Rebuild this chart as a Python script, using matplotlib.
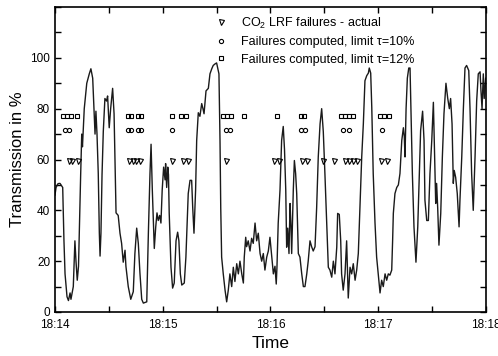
import matplotlib
matplotlib.use('Agg')
import matplotlib.pyplot as plt
from matplotlib.ticker import MultipleLocator, FixedLocator

plt.rcParams['font.family'] = ['Liberation Sans', 'DejaVu Sans']
plt.rcParams['mathtext.fontset'] = 'custom'
plt.rcParams['mathtext.rm'] = 'Liberation Sans'
plt.rcParams['mathtext.it'] = 'Liberation Sans:italic'

# transmission trace, time in seconds after 18:14
t_sec = [0, 0.6, 1.7, 2.8, 4.3, 5.0, 5.6, 6.7, 7.5, 8.4, 8.9, 10.2, 11.1, 11.7, 12.4, 13.1,
         14.3, 14.9, 15.3, 15.8, 16.3, 17.7, 19.1, 20.0, 21.0, 21.7, 22.3, 22.8, 23.4, 24.1,
         24.7, 25.1, 25.6, 26.2, 26.9, 27.8, 28.7, 29.3, 30.2, 31.0, 32.1, 32.9, 33.4, 34.0,
         35.2, 36.2, 37.1, 38.0, 39.0, 39.5, 40.8, 42.2, 43.6, 44.5, 45.5, 46.4, 47.3, 48.3,
         49.2, 51.1, 52.0, 52.9, 53.5, 54.2, 55.0, 55.3, 56.1, 56.8, 57.5, 58.3, 59.0, 59.7,
         60.5, 61.3, 61.6, 62.2, 62.8, 63.2, 63.6, 64.6, 65.5, 66.4, 67.4, 68.3, 69.0, 69.8,
         70.6, 72.0, 72.9, 74.2, 75.2, 76.1, 76.7, 77.4, 78.3, 78.9, 79.8, 80.7, 81.7, 82.4,
         83.0, 84.1, 85.4, 86.3, 87.3, 88.1, 89.1, 90.0, 90.6, 91.3, 91.9, 92.3, 92.8, 93.7,
         94.7, 95.6, 96.5, 97.4, 98.4, 99.3, 100.2, 101.2, 102.1, 103.0, 104.0, 104.9, 105.4,
         106.2, 106.7, 107.6, 108.6, 109.5, 110.4, 111.4, 112.3, 113.2, 114.2, 115.1, 116.0,
         116.9, 117.9, 118.8, 119.7, 120.7, 121.6, 122.5, 123.2, 123.6, 124.3, 125.3, 126.2,
         127.1, 127.8, 128.5, 129.0, 129.6, 130.3, 130.9, 131.4, 131.8, 132.7, 133.3, 134.0,
         134.6, 135.1, 135.5, 136.4, 137.4, 138.3, 139.2, 140.2, 141.0, 142.0, 142.9, 143.8,
         144.8, 145.7, 146.6, 147.6, 148.5, 149.4, 150.3, 151.3, 152.2, 153.1, 154.1, 155.0,
         155.9, 156.9, 157.4, 158.3, 159.1, 159.6, 160.5, 161.5, 162.4, 163.0, 163.3, 164.3,
         165.2, 166.1, 167.1, 168.0, 168.9, 169.8, 170.8, 171.7, 172.6, 173.6, 174.5, 175.0,
         175.8, 176.4, 177.2, 178.2, 179.1, 180.0, 181.0, 181.9, 182.8, 183.8, 184.7, 185.6,
         186.5, 187.5, 188.0, 188.4, 189.3, 190.3, 191.2, 192.1, 193.1, 194.0, 194.5, 194.9,
         195.5, 196.2, 197.0, 197.7, 198.2, 199.0, 199.9, 201.0, 202.0, 202.9, 203.6, 204.7,
         205.5, 206.0, 207.0, 207.9, 208.8, 209.8, 210.7, 211.2, 212.0, 212.5, 213.1, 213.8,
         214.8, 215.7, 216.6, 217.7, 218.7, 219.6, 220.3, 221.1, 221.8, 222.3, 223.1, 224.0,
         225.0, 225.5, 226.5, 227.4, 228.3, 229.2, 230.4, 231.1, 232.0, 232.9, 233.9, 234.8,
         235.7, 236.7, 237.2, 237.8, 238.5, 239.0, 239.8]
transmission = [46, 49, 50.5, 50.6, 49, 28, 15, 6, 4.5, 7.5, 5, 10, 28, 20, 12.5, 18,
                54, 70, 65, 72.5, 80, 90, 93.7, 95.7, 92, 80, 70, 79, 70, 54.5,
                31, 22, 31, 54, 71, 84, 83, 85, 72.5, 80, 88, 78, 61, 39,
                38, 31, 27, 19.6, 24.3, 18, 10, 5, 8, 23, 33, 27, 15.4, 5,
                3.5, 4, 31, 54.5, 66, 48, 31, 25, 33.5, 39, 36, 38, 35, 48,
                57, 52, 58.4, 49, 57, 54, 39, 17.6, 9.4, 11.4, 28, 31.4, 28, 15,
                10.6, 11.4, 21.6, 46.6, 51.8, 51.8, 41, 31, 48, 67.5, 78.4, 77, 82, 80,
                78, 87, 88, 93.7, 95.7, 97, 97.6, 98, 96, 93.7, 67, 41, 21.6, 15,
                8.6, 4, 8.6, 15, 10, 17.6, 12, 19, 15, 20, 15, 11.4, 21.6,
                29.4, 25.7, 28, 24, 29, 27, 35, 28, 31, 23, 20, 23,
                16.5, 21.6, 24, 29.4, 21.6, 15, 18, 11, 17.6, 35, 48, 67.5,
                73, 64, 48, 25.5, 33, 23, 42.7, 34, 23, 48, 59.6, 54.5,
                46.6, 34, 23, 21.6, 15, 10, 10, 15, 20, 28, 25.7, 24,
                25.7, 41, 61, 74, 80, 71, 54.5, 35, 17.6, 16.5, 13.7, 20,
                15, 25.5, 38.8, 38.4, 28, 15, 8.6, 15, 28, 12.5, 5.5, 17.6,
                15, 19, 12.5, 16.5, 23, 41, 61, 74, 91, 93, 94, 96,
                94, 80.5, 54.5, 35, 21.6, 15, 7.5, 12.5, 10, 15, 12.5, 15,
                14.5, 16.5, 28, 38.8, 46.6, 49, 50, 54.5, 67.5, 72.5, 69, 61,
                80, 92, 96, 96, 80, 54.5, 33.5, 19.6, 33.5, 54.5, 71.4, 79,
                67.5, 44, 36, 36, 54.5, 67.5, 82.5, 67.5, 42.7, 50.6, 41, 26.3,
                38.8, 61, 78, 90, 84, 80, 84, 74, 50.6, 55.7, 53, 46.6,
                33.5, 44, 61, 80, 96, 97, 95, 80, 54.5, 40, 61, 83,
                93.7, 94.5, 87, 80, 93.7, 84, 92]

# failure events (seconds after 18:14)
actual_t = [7.8, 9.7, 12.8, 41.2, 43.2, 45.1, 47.3, 65.4, 71.3, 74.1, 95.2, 122.2, 124.7,
            137.5, 140.3, 149.2, 155.6, 161.5, 163.7, 165.9, 168.4, 181.5, 185.1]
tau10_t = [5.6, 7.8, 40.6, 42.3, 46.2, 47.9, 65.1, 95.2, 97.4, 137.0, 139.2, 160.4,
           163.7, 182.1]
tau12_t = [4.5, 6.7, 8.9, 12.0, 40.6, 42.3, 46.2, 47.9, 65.1, 70.4, 72.7, 93.5, 95.8,
           98.0, 105.2, 123.9, 137.0, 138.6, 159.3, 161.5, 163.7, 165.9, 181.0, 183.2, 186.0]
actual_level = 59.6
tau10_level = 71.6
tau12_level = 77.3

tick_labels = ['18:14', '18:15', '18:16', '18:17', '18:18']

fig = plt.figure(figsize=(4.98, 3.56), dpi=100)
ax = fig.add_axes([0.1104, 0.1236, 0.8655, 0.8567])

ax.plot(t_sec, transmission, color='#1a1a1a', lw=1.0)
ax.plot(actual_t, [actual_level] * len(actual_t), ls='none', marker='v', ms=3.6,
        mfc='none', mec='k', mew=0.8, label='CO$_2$ LRF failures - actual')
ax.plot(tau10_t, [tau10_level] * len(tau10_t), ls='none', marker='o', ms=3.0,
        mfc='none', mec='k', mew=0.8, label='Failures computed, limit τ=10%')
ax.plot(tau12_t, [tau12_level] * len(tau12_t), ls='none', marker='s', ms=3.0,
        mfc='none', mec='k', mew=0.8, label='Failures computed, limit τ=12%')

ax.set_xlim(0, 240)
ax.set_ylim(0, 120)
ax.xaxis.set_major_locator(FixedLocator([0, 60, 120, 180, 240]))
ax.set_xticklabels(tick_labels)
ax.xaxis.set_minor_locator(MultipleLocator(30))
ax.yaxis.set_major_locator(FixedLocator([0, 20, 40, 60, 80, 100]))
ax.yaxis.set_minor_locator(MultipleLocator(10))
ax.tick_params(which='both', direction='in', top=True, right=True, labelsize=8.5,
               width=1.0)
ax.tick_params(which='major', length=4)
ax.tick_params(which='minor', length=4)
ax.tick_params(axis='x', pad=5)
for s in ax.spines.values():
    s.set_linewidth(1.2)

ax.set_xlabel('Time', fontsize=12.5)
ax.set_ylabel('Transmission in %', fontsize=12)

ax.legend(loc='upper left', bbox_to_anchor=(0.345, 1.005), frameon=False, fontsize=9,
          handlelength=1.2, handletextpad=1.0, labelspacing=0.45, borderpad=0.3)

fig.savefig('out.png', dpi=100)
